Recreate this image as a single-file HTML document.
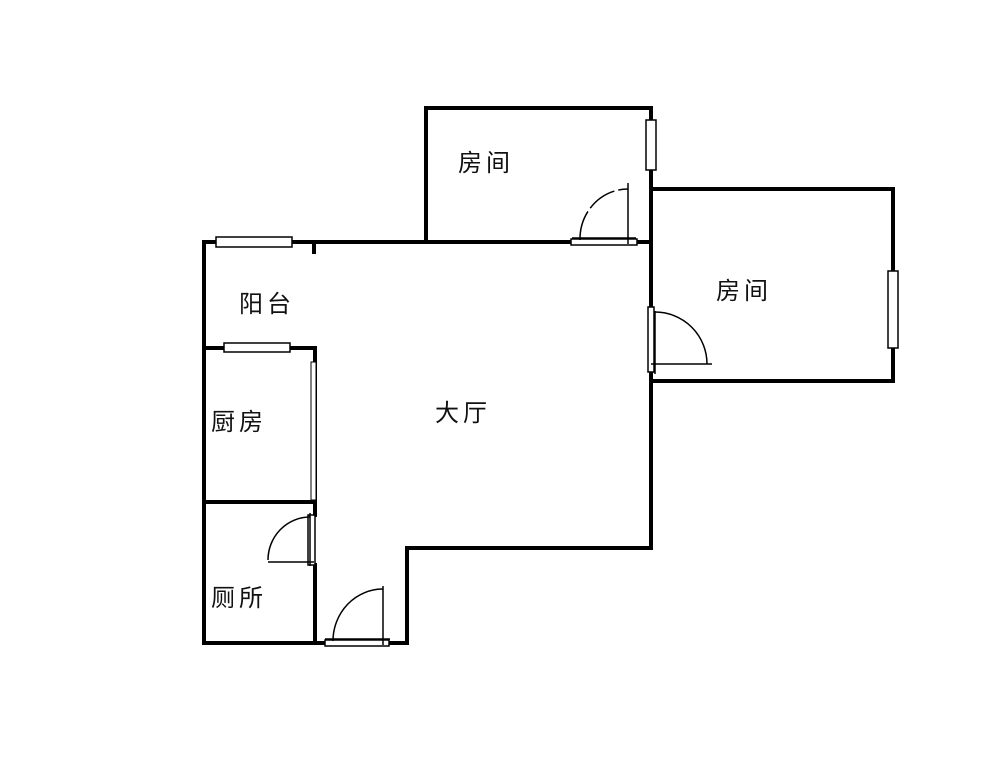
<!DOCTYPE html>
<html><head><meta charset="utf-8"><style>
body{margin:0;background:#fff;width:1000px;height:769px;overflow:hidden}
text{font-family:"Liberation Sans","Noto Sans CJK SC",sans-serif;font-size:24px;fill:#111;letter-spacing:4px}
</style></head><body>
<svg width="1000" height="769" viewBox="0 0 1000 769" xmlns="http://www.w3.org/2000/svg">
<g stroke="#000" stroke-width="4" fill="none" stroke-linecap="square">
<path d="M426 242 V108 H651 V548"/>
<path d="M426 242 H571 M637 242 H651"/>
<path d="M651 189 H893 V381 H651"/>
<path d="M204 242 H426"/>
<path d="M204 242 V643 H325 M389 643 H407 V548 H651"/>
<path d="M204 348 H315 V515 M315 565 V643"/>
<path d="M204 502 H315"/>
<path d="M314 244 V252"/>
</g>
<g stroke="#000" stroke-width="1.5" fill="#fff">
<rect x="216" y="237" width="76" height="10"/>
<rect x="224" y="343" width="66" height="9"/>
<rect x="646" y="120" width="10" height="50"/>
<rect x="888" y="271" width="10" height="77"/>
<rect x="571" y="239" width="66" height="6"/>
<rect x="648" y="307" width="6" height="65"/>
<rect x="325" y="640" width="64" height="6"/>
<rect x="308" y="515" width="7" height="50"/>
<rect x="311" y="362" width="5" height="138" stroke-width="1"/>
</g>
<g stroke="#000" stroke-width="1.5" fill="none">
<path d="M628 183 V244 M572 238 H636"/>
<path d="M580 240 A48 50 0 0 1 628 189" stroke-dasharray="30 4"/>
<path d="M655 311 V374 M651 364 H712"/>
<path d="M655 312 A52 52 0 0 1 707 364"/>
<path d="M383 586 V645 M325 639 H390"/>
<path d="M333 641 A50 52 0 0 1 383 589"/>
<path d="M310 513 V566 M268 562 H314"/>
<path d="M268 560 A42 43 0 0 1 310 517"/>
</g>
<text x="458" y="171">房间</text>
<text x="716" y="299">房间</text>
<text x="239" y="312">阳台</text>
<text x="211" y="430">厨房</text>
<text x="435" y="421">大厅</text>
<text x="211" y="606">厕所</text>
</svg>
</body></html>
